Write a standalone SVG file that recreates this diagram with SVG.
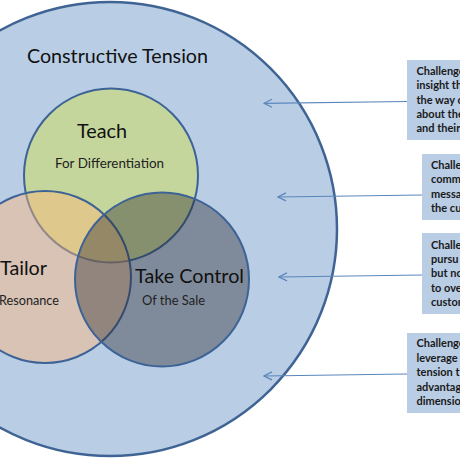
<svg xmlns="http://www.w3.org/2000/svg" width="460" height="460" viewBox="0 0 460 460">
<defs>
<marker id="ah" viewBox="0 0 10 10" refX="1" refY="5" markerWidth="10" markerHeight="10" markerUnits="userSpaceOnUse" orient="auto">
<path d="M9,1 L1,5 L9,9" fill="none" stroke="#5a86bb" stroke-width="1.2"/>
</marker>
</defs>
<style>
.big{font-family:Lato,"Liberation Sans",sans-serif;font-size:19px;fill:#111}
.sub{font-family:Lato,"Liberation Sans",sans-serif;font-size:13px;fill:#222}
.box{fill:#b9cde5}
.bt{font-family:Lato,"Liberation Sans",sans-serif;font-size:11px;font-weight:bold;fill:#1a1a1a}
.arrow{stroke:#5a86bb;stroke-width:1.2;fill:none;marker-start:url(#ah)}
.ring{stroke:#3d6396;stroke-width:2}
</style>
<rect width="460" height="460" fill="#ffffff"/>
<g id="constructive-tension">
<circle cx="110" cy="229" r="227" fill="#b9cde5" stroke="#3f6494" stroke-width="2.5"/>
<text class="big" x="27" y="62.5" textLength="181" lengthAdjust="spacingAndGlyphs">Constructive Tension</text>
</g>
<g id="teach">
<circle cx="111" cy="175.5" r="87" fill="#c5d69c" class="ring"/>
</g>
<g id="tailor">
<circle cx="45" cy="277" r="86" fill="#ffb678" fill-opacity="0.44" class="ring"/>
</g>
<g id="take-control">
<circle cx="162" cy="279.5" r="87" fill="#28282c" fill-opacity="0.4" class="ring"/>
</g>
<g id="labels">
<text class="big" x="77" y="137.5" textLength="50" lengthAdjust="spacingAndGlyphs">Teach</text>
<text class="sub" x="55" y="167.5" textLength="109" lengthAdjust="spacingAndGlyphs">For Differentiation</text>
<text class="big" x="0" y="275" textLength="47" lengthAdjust="spacingAndGlyphs">Tailor</text>
<text class="sub" x="-1" y="305" textLength="60" lengthAdjust="spacingAndGlyphs">Resonance</text>
<text class="big" x="135" y="282.5" textLength="109" lengthAdjust="spacingAndGlyphs">Take Control</text>
<text class="sub" x="142" y="305" textLength="63" lengthAdjust="spacingAndGlyphs">Of the Sale</text>
</g>
<g id="box1">
<rect class="box" x="407" y="60" width="60" height="80"/>
<text class="bt" x="416.5" y="75">Challenge</text>
<text class="bt" x="416.5" y="89.3">insight th</text>
<text class="bt" x="416.5" y="103.6">the way c</text>
<text class="bt" x="416.5" y="118">about the</text>
<text class="bt" x="416.5" y="132.3">and their</text>
</g>
<g id="box2">
<rect class="box" x="422" y="154" width="45" height="66"/>
<text class="bt" x="431" y="169">Challe</text>
<text class="bt" x="431" y="183.3">comm</text>
<text class="bt" x="431" y="197.7">messa</text>
<text class="bt" x="431" y="212">the cu</text>
</g>
<g id="box3">
<rect class="box" x="422" y="233" width="45" height="81"/>
<text class="bt" x="431" y="249">Challe</text>
<text class="bt" x="431" y="263.3">pursu</text>
<text class="bt" x="431" y="277.3">but no</text>
<text class="bt" x="431" y="291.7">to ove</text>
<text class="bt" x="431" y="306">custom</text>
</g>
<g id="box4">
<rect class="box" x="407" y="333" width="60" height="80"/>
<text class="bt" x="416.5" y="347.3">Challenge</text>
<text class="bt" x="416.5" y="361.7">leverage</text>
<text class="bt" x="416.5" y="376">tension t</text>
<text class="bt" x="416.5" y="390.7">advantag</text>
<text class="bt" x="416.5" y="405">dimensio</text>
</g>
<g id="connectors">
<path class="arrow" d="M264,103.3 L407,101.5"/>
<path class="arrow" d="M278,197 L422,195"/>
<path class="arrow" d="M279,277 L422,275"/>
<path class="arrow" d="M264,376 L407,374"/>
</g>
</svg>
